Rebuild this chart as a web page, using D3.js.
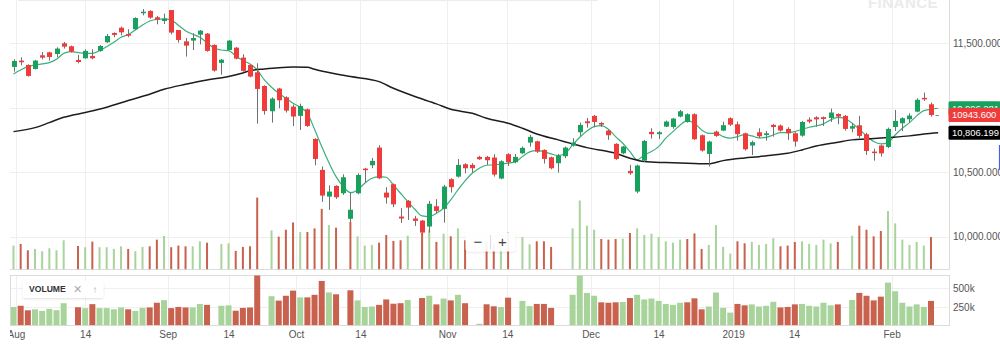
<!DOCTYPE html>
<html>
<head>
<meta charset="utf-8">
<script src="https://cdn.jsdelivr.net/npm/d3@7"></script>
<style>
  html, body { margin: 0; padding: 0; background: #fff; }
  svg { display: block; font-family: "Liberation Sans", Arial, Helvetica, sans-serif; }
</style>
</head>
<body>
<svg id="chart" width="1000" height="349"></svg>
<script>
// ---- daily OHLC, one entry per trading slot ----
const opens = [
  11317,11366,11332,11301,11407,11430,11417,11500,11477,11371,
  11384,11402,11441,11508,11580,11621,11572,11609,11733,11751,
  11702,11673,11758,11603,11515,11521,11567,11575,11487,11348,
  11448,11466,11389,11332,11275,11169,10973,11149,11081,11009,
  10937,10988,10758,10518,10311,10394,10337,10139,10337,10528,
  10554,10691,10342,10407,10156,10278,10141,10125,10079,10236,
  10216,10446,10466,10562,10557,10619,10619,10614,10451,10640,
  10578,10647,10730,10740,10673,10616,10570,10624,10707,10810,
  10895,10937,10882,10823,10720,10647,10510,10350,10590,10813,
  10795,10854,10851,10932,10890,10950,10787,10642,10815,10823,
  10919,10872,10802,10707,10810,10789,10867,10862,10836,10802,
  10784,10908,10926,10927,10921,10952,10937,10838,10864,10795,
  10660,10707,10696,10851,10880,10911,10970,11077,11027
];
const highs = [
  11376,11391,11337,11371,11433,11435,11469,11510,11482,11410,
  11453,11453,11487,11572,11585,11629,11609,11702,11766,11756,
  11712,11730,11758,11603,11541,11578,11603,11580,11492,11379,
  11526,11472,11415,11337,11345,11174,11081,11154,11089,11025,
  11032,10994,10764,10544,10397,10399,10484,10342,10492,10534,
  10611,10709,10384,10412,10221,10285,10162,10130,10278,10291,
  10402,10453,10603,10570,10570,10627,10627,10640,10593,10647,
  10642,10699,10789,10745,10678,10621,10642,10699,10764,10885,
  10921,10944,10890,10831,10725,10704,10557,10559,10751,10841,
  10820,10901,10921,10983,10957,10957,10792,10745,10823,10893,
  10926,10893,10807,10745,10841,10820,10875,10870,10849,10810,
  10898,10926,10934,10932,10994,10957,10944,10880,10937,10807,
  10683,10714,10846,10983,10926,10957,11074,11118,11040
];
const lows = [
  11280,11329,11242,11298,11376,11366,11391,11459,11428,11345,
  11381,11376,11435,11503,11547,11562,11547,11603,11717,11691,
  11647,11650,11570,11505,11397,11448,11492,11435,11280,11257,
  11446,11376,11280,11236,10877,10947,10885,10996,10963,10859,
  10828,10851,10554,10270,10208,10293,10324,10113,10329,10420,
  10531,10446,10257,10229,10107,10130,10084,10027,10032,10182,
  10109,10342,10459,10492,10497,10596,10557,10466,10446,10549,
  10570,10640,10699,10650,10567,10523,10497,10609,10699,10782,
  10846,10849,10851,10751,10596,10640,10479,10337,10580,10761,
  10758,10851,10838,10926,10885,10751,10660,10544,10774,10820,
  10859,10745,10668,10634,10764,10745,10776,10815,10751,10699,
  10776,10880,10854,10859,10890,10872,10823,10810,10764,10634,
  10590,10621,10686,10820,10818,10885,10965,11053,10932
];
const closes = [
  11363,11353,11247,11366,11389,11394,11459,11474,11435,11355,
  11441,11384,11479,11557,11565,11585,11559,11696,11745,11699,
  11683,11691,11583,11526,11482,11541,11598,11441,11288,11373,
  11521,11381,11286,11242,11146,10975,11071,11058,10978,10932,
  11014,10859,10603,10319,10350,10306,10461,10209,10479,10516,
  10588,10453,10304,10251,10141,10226,10123,10032,10255,10200,
  10389,10384,10557,10531,10531,10601,10593,10482,10585,10578,
  10619,10689,10774,10660,10603,10531,10629,10691,10730,10867,
  10880,10890,10869,10787,10603,10699,10492,10552,10743,10795,
  10810,10893,10916,10973,10950,10756,10668,10738,10782,10865,
  10869,10795,10678,10733,10779,10802,10851,10823,10802,10738,
  10890,10893,10910,10913,10963,10932,10836,10857,10782,10665,
  10650,10646,10836,10898,10919,10939,11062,11066,10943.6
];
// traded volume per slot; null where no volume was reported
const volumes = [
  248000,264000,203000,216000,194000,222000,203000,299000,null,244000,
  232000,286000,232000,232000,216000,241000,216000,194000,235000,241000,
  305000,340000,232000,248000,241000,241000,289000,276000,null,264000,
  270000,197000,235000,241000,709000,null,394000,334000,400000,470000,
  378000,378000,413000,601000,445000,420000,null,474000,337000,248000,
  254000,276000,350000,292000,299000,343000,null,369000,400000,283000,
  362000,337000,413000,299000,null,20000,284000,257000,247000,374000,
  null,330000,260000,289000,289000,235000,null,null,413000,681000,
  439000,400000,311000,305000,311000,315000,369000,413000,350000,362000,
  330000,289000,276000,305000,311000,365000,216000,254000,445000,235000,
  171000,289000,270000,283000,254000,264000,318000,241000,248000,283000,
  289000,264000,254000,305000,270000,283000,null,343000,439000,400000,
  337000,388000,579000,461000,305000,254000,283000,248000,330000
];
// short moving average, one value per slot (last one is the live point)
const fastMA = [
  11262,11293,11319,11332,11340,11350,11376,11422,11435,11428,
  11422,11422,11443,11474,11508,11547,11567,11603,11642,11673,
  11686,11689,11681,11640,11598,11570,11547,11505,11461,11448,
  11443,11402,11366,11340,11293,11216,11159,11112,11074,11035,
  11004,10957,10833,10699,10575,10466,10389,10342,10363,10415,
  10453,10466,10461,10402,10337,10273,10213,10162,10156,10182,
  10221,10285,10363,10433,10492,10531,10554,10557,10562,10570,
  10580,10621,10658,10668,10660,10642,10629,10647,10712,10771,
  10820,10854,10862,10833,10776,10725,10660,10596,10634,10660,
  10699,10764,10815,10867,10901,10880,10828,10802,10802,10776,
  10764,10776,10792,10782,10766,10771,10789,10807,10807,10815,
  10833,10849,10859,10875,10906,10926,10916,10880,10833,10782,
  10738,10720,10730,10789,10841,10885,10937,10978,10988,10996.281
];
// long moving average as [slot, value] samples
const slowMA = [
  [0,10815],[3,10846],[5,10885],[7,10926],[10,10963],[13,11004],[16,11056],
  [19,11105],[21,11143],[24,11182],[27,11216],[30,11242],[32,11270],[33,11288],
  [35,11301],[37,11311],[39,11316],[41,11314],[42,11298],[45,11262],[47,11242],
  [51,11203],[53,11151],[56,11087],[59,11030],[61,10988],[64,10957],[66,10919],
  [69,10880],[71,10841],[73,10797],[76,10751],[78,10720],[80,10691],[84,10647],
  [86,10609],[88,10583],[91,10575],[94,10570],[97,10565],[99,10590],[102,10611],
  [104,10621],[106,10634],[108,10647],[110,10673],[112,10704],[115,10733],
  [117,10751],[119,10758],[122,10769],[125,10782],[127,10797],[129,10806.199]
];
// date ticks (slot position) and their labels
const tickSlots  = [0.35, 10, 21.5, 30, 39.4, 48.4, 60.5, 68.9, 80.5, 90, 100.4, 108.9, 122.5];
const tickLabels = ["Aug","14","Sep","14","Oct","14","Nov","14","Dec","14","2019","14","Feb"];
const priceTicks  = [10000, 10500, 11000, 11500];
const volumeTicks = [250000, 500000];

// ---- styling ----
const C = {
  up: "#17a15c", down: "#f03b3b", wick: "#707070",
  volUp: "#a8d49c", volDown: "#c8614d",
  fast: "#3caf7b", slow: "#1d1d1d",
  grid: "#efefef", frame: "#dcdcdc", text: "#555"
};
const FONT = "'Liberation Sans', Arial, sans-serif";

const svg = d3.select("#chart");
const pane = { left: 10, right: 949.5, top: 0, bottom: 269.5 };
const volPane = { left: 10.5, right: 949.5, top: 275.5, bottom: 325.5 };

const x = d3.scaleLinear().domain([0, 128]).range([13.5, 931]);
const y = d3.scaleLinear().domain([10000, 11500]).range([236.7, 43.3]);
const yVol = d3.scaleLinear().domain([0, 500000]).range([325.2, 288.4]);
const present = volumes.filter(v => v != null);
const yVolOverlay = d3.scaleLinear().domain(d3.extent(present)).range([269.3, 197.6]);

svg.append("rect").attr("width", 1000).attr("height", 349).attr("fill", "#fff");

const defs = svg.append("defs");
defs.append("clipPath").attr("id", "clipMain").append("rect")
  .attr("x", pane.left).attr("y", pane.top)
  .attr("width", pane.right - pane.left).attr("height", pane.bottom - pane.top);
defs.append("clipPath").attr("id", "clipVol").append("rect")
  .attr("x", volPane.left).attr("y", volPane.top)
  .attr("width", volPane.right - volPane.left).attr("height", volPane.bottom - volPane.top);
const shadow = defs.append("filter").attr("id", "soft").attr("x", "-20%").attr("y", "-40%")
  .attr("width", "140%").attr("height", "180%");
shadow.append("feDropShadow").attr("dx", 0).attr("dy", 1).attr("stdDeviation", 1.2)
  .attr("flood-color", "#000").attr("flood-opacity", 0.12);

// faint strip along the top edge
svg.append("line").attr("x1", 18).attr("x2", 598).attr("y1", 0.5).attr("y2", 0.5)
  .attr("stroke", "#ececec");

// ---- grid ----
const grid = svg.append("g");
grid.selectAll(".vg").data(tickSlots).join("line")
  .attr("x1", d => Math.round(x(d)) + 0.5).attr("x2", d => Math.round(x(d)) + 0.5)
  .attr("y1", pane.top).attr("y2", pane.bottom).attr("stroke", C.grid);
grid.selectAll(".vg2").data(tickSlots).join("line")
  .attr("x1", d => Math.round(x(d)) + 0.5).attr("x2", d => Math.round(x(d)) + 0.5)
  .attr("y1", volPane.top).attr("y2", volPane.bottom).attr("stroke", C.grid);
grid.selectAll(".hg").data(priceTicks).join("line")
  .attr("x1", pane.left).attr("x2", pane.right)
  .attr("y1", d => Math.round(y(d)) + 0.5).attr("y2", d => Math.round(y(d)) + 0.5)
  .attr("stroke", C.grid);
grid.selectAll(".hv").data(volumeTicks).join("line")
  .attr("x1", volPane.left).attr("x2", volPane.right)
  .attr("y1", d => Math.round(yVol(d)) + 0.5).attr("y2", d => Math.round(yVol(d)) + 0.5)
  .attr("stroke", C.grid);

// pane frames
svg.append("line").attr("x1", pane.right).attr("x2", pane.right)
  .attr("y1", 0).attr("y2", pane.bottom).attr("stroke", C.frame);
svg.append("line").attr("x1", pane.left).attr("x2", pane.right)
  .attr("y1", pane.bottom).attr("y2", pane.bottom).attr("stroke", C.frame);
svg.append("rect").attr("x", volPane.left).attr("y", volPane.top)
  .attr("width", volPane.right - volPane.left).attr("height", volPane.bottom - volPane.top)
  .attr("fill", "none").attr("stroke", C.frame);

// volume colour follows close-to-close direction
const volColor = i => (i === 0 || closes[i] >= closes[i - 1]) ? C.volUp : C.volDown;
const volData = volumes.map((v, i) => ({ i, v })).filter(d => d.v != null);

// ---- volume overlay in price pane ----
const main = svg.append("g").attr("clip-path", "url(#clipMain)");
main.append("g").selectAll("rect").data(volData).join("rect")
  .attr("x", d => x(d.i) - 1).attr("width", 2)
  .attr("y", d => yVolOverlay(d.v))
  .attr("height", d => Math.max(0, yVolOverlay.range()[0] - yVolOverlay(d.v)))
  .attr("fill", d => volColor(d.i));

// ---- moving averages ----
const lineFast = d3.line().x((d, i) => x(i)).y(d => y(d)).curve(d3.curveMonotoneX);
main.append("path").datum(fastMA).attr("d", lineFast)
  .attr("fill", "none").attr("stroke", C.fast).attr("stroke-width", 1.2);
const lineSlow = d3.line().x(d => x(d[0])).y(d => y(d[1])).curve(d3.curveMonotoneX);
main.append("path").datum(slowMA).attr("d", lineSlow)
  .attr("fill", "none").attr("stroke", C.slow).attr("stroke-width", 1.5);

// ---- candles ----
const candles = main.append("g").selectAll("g").data(closes.map((c, i) => i)).join("g");
candles.append("line")
  .attr("x1", i => Math.round(x(i)) + 0.5).attr("x2", i => Math.round(x(i)) + 0.5)
  .attr("y1", i => y(highs[i])).attr("y2", i => y(lows[i]))
  .attr("stroke", C.wick).attr("stroke-width", 1);
candles.append("rect")
  .attr("x", i => Math.round(x(i)) - 2)
  .attr("width", 5)
  .attr("y", i => y(Math.max(opens[i], closes[i])))
  .attr("height", i => Math.max(1.5, Math.abs(y(opens[i]) - y(closes[i]))))
  .attr("fill", i => closes[i] >= opens[i] ? C.up : C.down);

// last price tick
const nLast = closes.length - 1;
main.append("line").attr("x1", x(nLast) + 4.5).attr("x2", x(nLast) + 8)
  .attr("y1", y(closes[nLast]) + 0.5).attr("y2", y(closes[nLast]) + 0.5)
  .attr("stroke", "#8a8a8a").attr("stroke-width", 1);

// ---- volume pane ----
svg.append("g").attr("clip-path", "url(#clipVol)").selectAll("rect").data(volData).join("rect")
  .attr("x", d => x(d.i) - 3).attr("width", 6)
  .attr("y", d => yVol(d.v))
  .attr("height", d => yVol(0) - yVol(d.v))
  .attr("fill", d => volColor(d.i));

// ---- axes ----
const xAxis = d3.axisBottom(x).tickValues(tickSlots)
  .tickFormat((d, i) => tickLabels[i]).tickSize(0).tickPadding(0);
const gx = svg.append("g").attr("transform", "translate(0,331)");
// clip in the group's own coordinates so labels don't spill left of the plot
gx.append("clipPath").attr("id", "clipAxis").append("rect")
  .attr("x", 10).attr("y", -6).attr("width", 940).attr("height", 24);
const gxTicks = gx.append("g").attr("clip-path", "url(#clipAxis)").call(xAxis);
gxTicks.select(".domain").remove();
gxTicks.selectAll("text").attr("fill", C.text).attr("font-size", 10).attr("font-family", FONT);

const yAxis = d3.axisRight(y).tickValues(priceTicks).tickFormat(d3.format(",.3f"))
  .tickSize(0).tickPadding(4);
const gy = svg.append("g").attr("transform", `translate(${pane.right - 0.5},0)`).call(yAxis);
gy.select(".domain").remove();
gy.selectAll("text").attr("fill", C.text).attr("font-size", 10).attr("font-family", FONT);

const vAxis = d3.axisRight(yVol).tickValues(volumeTicks).tickFormat(d3.format("~s"))
  .tickSize(0).tickPadding(4);
const gv = svg.append("g").attr("transform", `translate(${volPane.right - 0.5},0)`).call(vAxis);
gv.select(".domain").remove();
gv.selectAll("text").attr("fill", C.text).attr("font-size", 10).attr("font-family", FONT);

// ---- value badges on the price axis ----
const badges = [
  { v: fastMA[fastMA.length - 1], fill: C.up, text: d3.format(",.3f")(fastMA[fastMA.length - 1]) },
  { v: closes[nLast], fill: C.down, text: d3.format(".3f")(closes[nLast]) },
  { v: slowMA[slowMA.length - 1][1], fill: "#000", text: d3.format(",.3f")(slowMA[slowMA.length - 1][1]) }
];
const bg = svg.append("g").selectAll("g").data(badges).join("g");
bg.append("rect").attr("x", 948.5).attr("width", 52).attr("height", 14)
  .attr("y", d => y(d.v) - 7).attr("rx", 1.5).attr("fill", d => d.fill);
bg.append("text").attr("x", 952).attr("y", d => y(d.v) + 3.4)
  .attr("font-size", 9.4).attr("font-family", FONT).attr("fill", "#fff").text(d => d.text);

// scroll marker at the right edge
svg.append("line").attr("x1", 999.5).attr("x2", 999.5).attr("y1", 145).attr("y2", 170)
  .attr("stroke", "#4a63d8").attr("stroke-width", 1.2);

// watermark
svg.append("text").attr("x", 903).attr("y", 8).attr("text-anchor", "middle")
  .attr("font-size", 15).attr("font-weight", "bold").attr("fill", "#ebebeb")
  .attr("letter-spacing", 0.5).text("FINANCE");

// zoom control
const zc = svg.append("g");
zc.append("rect").attr("x", 465.5).attr("y", 232.5).attr("width", 50).attr("height", 19)
  .attr("rx", 3).attr("fill", "#fff").attr("fill-opacity", 0.92).attr("filter", "url(#soft)");
zc.append("line").attr("x1", 490.5).attr("x2", 490.5).attr("y1", 235).attr("y2", 249).attr("stroke", "#ddd");
zc.append("text").attr("x", 478).attr("y", 246.5).attr("text-anchor", "middle")
  .attr("font-size", 15).attr("fill", "#444").text("−");
zc.append("text").attr("x", 502.5).attr("y", 246.5).attr("text-anchor", "middle")
  .attr("font-size", 15).attr("fill", "#444").text("+");

// study legend
const lg = svg.append("g");
lg.append("rect").attr("x", 22.5).attr("y", 280.5).attr("width", 81).attr("height", 17.5)
  .attr("rx", 3).attr("fill", "#fff").attr("filter", "url(#soft)");
lg.append("text").attr("x", 29).attr("y", 292.3).attr("font-size", 8.6)
  .attr("font-weight", 600).attr("fill", "#333").text("VOLUME");
lg.append("text").attr("x", 77).attr("y", 293).attr("text-anchor", "middle")
  .attr("font-size", 11).attr("fill", "#aaa").text("✕");
lg.append("text").attr("x", 95).attr("y", 293).attr("text-anchor", "middle")
  .attr("font-size", 10).attr("fill", "#aaa").text("↑");
</script>
</body>
</html>
